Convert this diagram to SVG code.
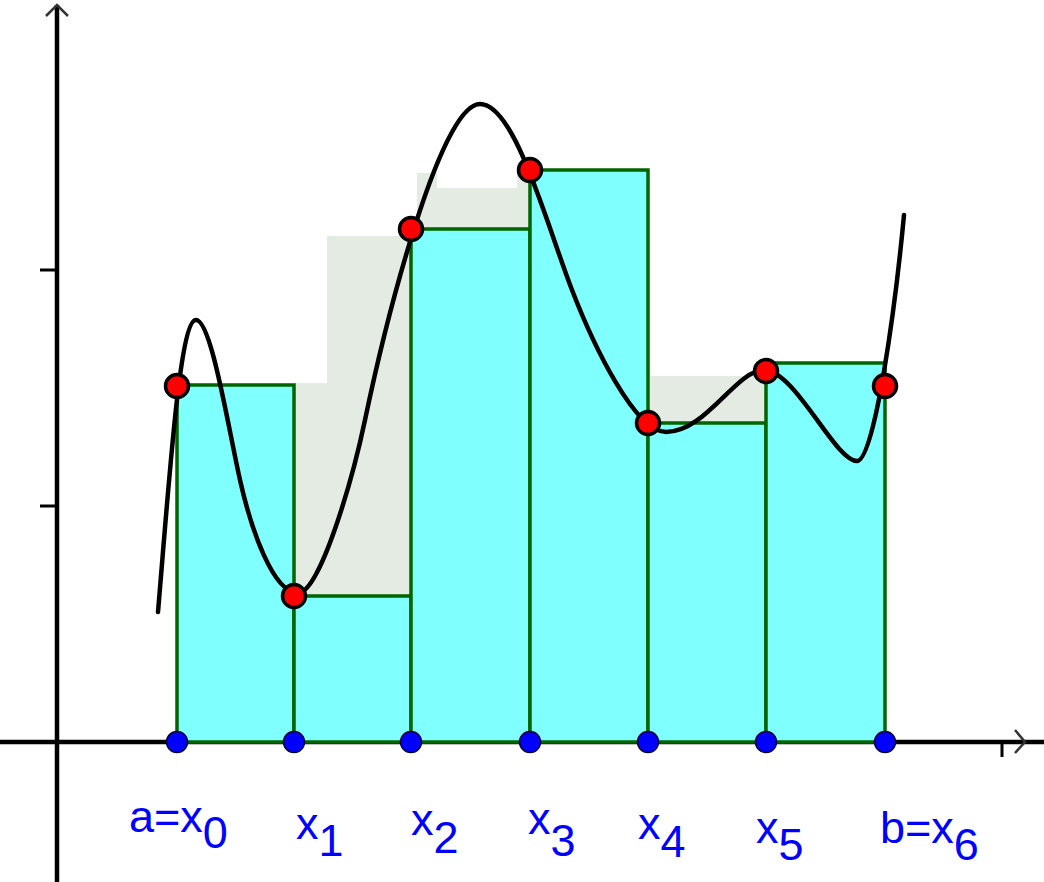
<svg xmlns="http://www.w3.org/2000/svg" width="1044" height="882" viewBox="0 0 1044 882">
<style>
.ax{stroke:#000;stroke-width:4.5;fill:none}
.tk{stroke:#000;stroke-width:3;fill:none}
.chev{stroke:#333;stroke-width:2.5;fill:none}
.gray{fill:#e3ebe3;stroke:none}
.bar{fill:#80ffff;stroke:#006400;stroke-width:3.5}
.crv{fill:none;stroke:#000;stroke-width:4.5;stroke-linecap:round}
.red{fill:#ff0000;stroke:#000;stroke-width:3.5}
.blue{fill:#0000ff;stroke:#000033;stroke-width:1.5}
.lbl{font-family:"Liberation Sans",Arial,sans-serif;font-size:45px;fill:#0000ff}
</style>
<rect width="1044" height="882" fill="#fff"/>
<g id="axes">
  <line class="ax" x1="57" y1="5" x2="57" y2="882"/>
  <polyline class="chev" points="46,16 57,5 68,16"/>
  <line class="ax" x1="0" y1="742" x2="1044" y2="742"/>
  <polyline class="chev" points="1015,730 1025,742 1015,753"/>
  <line class="tk" x1="1002" y1="742" x2="1002" y2="757"/>
  <line class="tk" x1="40" y1="270" x2="57" y2="270"/>
  <line class="tk" x1="40" y1="506" x2="57" y2="506"/>
</g>
<g id="upper-sum">
  <polygon class="gray" points="294,742 294,383 327,383 327,236 411,236 411,742"/>
  <polygon class="gray" points="417,742 417,173 437,173 437,188 517,188 517,173 530,173 530,742"/>
  <rect class="gray" x="650" y="376" width="116" height="60"/>
</g>
<g id="lower-sum">
  <rect id="bar1" class="bar" x="177" y="385" width="117" height="357"/>
  <rect id="bar2" class="bar" x="294" y="596" width="117" height="146"/>
  <rect id="bar3" class="bar" x="411" y="229" width="119" height="513"/>
  <rect id="bar4" class="bar" x="530" y="170" width="118" height="572"/>
  <rect id="bar5" class="bar" x="648" y="423" width="118" height="319"/>
  <rect id="bar6" class="bar" x="766" y="363" width="119" height="379"/>
</g>
<g id="curve">
  <path class="crv" d="M158,612 C170,470 180,320 196,320 C211,320 227,421 240,480 C251,529 273,593 298,593 C320,593 352.7,478.7 365,420 C385.5,322 440,104 480,104 C515,104 546.8,224.9 572,290 C593.6,345.8 635,432 666,432 C706,432 736,370 764,370 C795,370 835,461 857,461 C875,461 896,300 904,215"/>
</g>
<g id="sample-points">
  <circle id="p0" class="red" cx="177" cy="386" r="11.5"/>
  <circle id="p1" class="red" cx="294" cy="596" r="11.5"/>
  <circle id="p2" class="red" cx="411" cy="229" r="11.5"/>
  <circle id="p3" class="red" cx="530" cy="170" r="11.5"/>
  <circle id="p4" class="red" cx="648" cy="423" r="11.5"/>
  <circle id="p5" class="red" cx="766" cy="371" r="11.5"/>
  <circle id="p6" class="red" cx="885" cy="386" r="11.5"/>
</g>
<g id="partition-points">
  <circle id="x0" class="blue" cx="177" cy="742" r="10.5"/>
  <circle id="x1" class="blue" cx="294" cy="742" r="10.5"/>
  <circle id="x2" class="blue" cx="411" cy="742" r="10.5"/>
  <circle id="x3" class="blue" cx="530" cy="742" r="10.5"/>
  <circle id="x4" class="blue" cx="648" cy="742" r="10.5"/>
  <circle id="x5" class="blue" cx="766" cy="742" r="10.5"/>
  <circle id="x6" class="blue" cx="885" cy="742" r="10.5"/>
</g>
<g id="labels">
  <text class="lbl" x="129" y="832">a=x<tspan dy="16">0</tspan></text>
  <text class="lbl" x="296" y="839">x<tspan dy="17">1</tspan></text>
  <text class="lbl" x="411" y="835">x<tspan dy="18">2</tspan></text>
  <text class="lbl" x="528" y="834">x<tspan dy="22">3</tspan></text>
  <text class="lbl" x="638" y="839">x<tspan dy="18">4</tspan></text>
  <text class="lbl" x="756" y="843">x<tspan dy="17">5</tspan></text>
  <text class="lbl" x="880" y="843">b=x<tspan dy="17">6</tspan></text>
</g>
</svg>
